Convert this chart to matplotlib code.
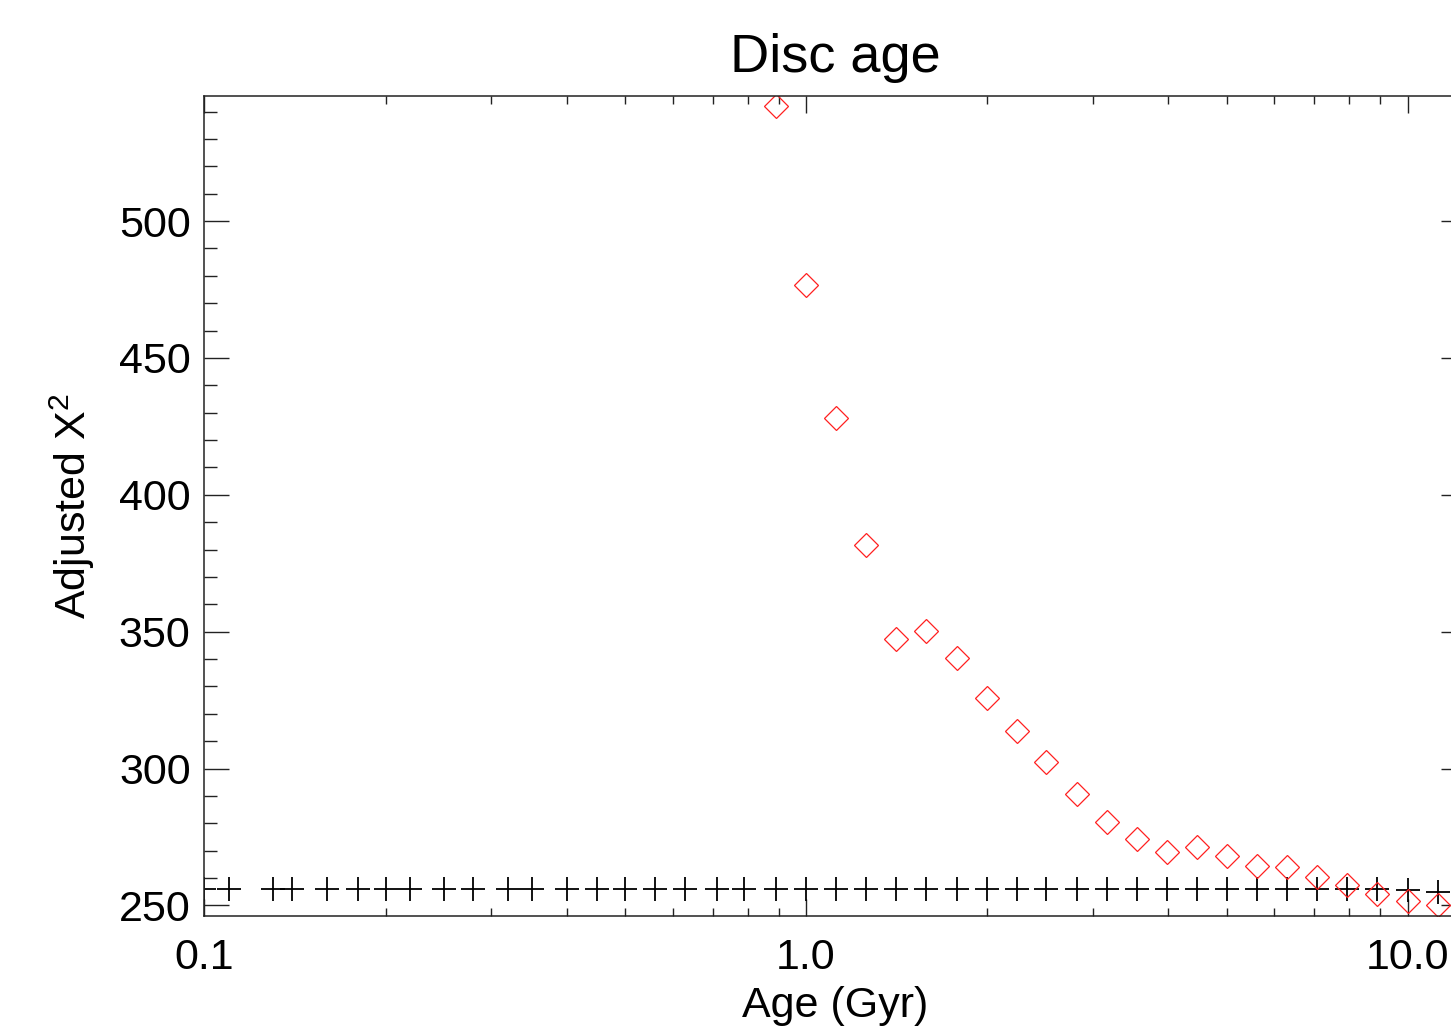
#Disc age: adjusted chi-square against age of the disc population
import matplotlib
matplotlib.use('Agg')
import matplotlib.pyplot as plt
from matplotlib.ticker import FixedLocator, LogLocator, MultipleLocator, NullFormatter

plt.rcParams['font.family'] = ['Liberation Sans', 'DejaVu Sans']
plt.rcParams['mathtext.fontset'] = 'custom'
plt.rcParams['mathtext.rm'] = 'Liberation Sans'

#Ages of the model grid (Gyr), black crosses
age_grid = [0.10, 0.11, 0.13, 0.14, 0.16, 0.18, 0.20, 0.22, 0.25, 0.28, 0.32,
            0.35, 0.40, 0.45, 0.50, 0.56, 0.63, 0.71, 0.79, 0.89, 1.00, 1.12,
            1.26, 1.41, 1.58, 1.78, 2.00, 2.24, 2.51, 2.82, 3.16, 3.55, 3.98,
            4.47, 5.01, 5.62, 6.31, 7.08, 7.94, 8.91, 10.00, 11.22]
chi2_grid = [256.0] * 40 + [255.6, 254.9]

#Ages with a visible adjusted chi-square (red diamonds)
age_fit = [0.89, 1.00, 1.12, 1.26, 1.41, 1.58, 1.78, 2.00, 2.24, 2.51, 2.82,
           3.16, 3.55, 3.98, 4.47, 5.01, 5.62, 6.31, 7.08, 7.94, 8.91, 10.00,
           11.22]
chi2_fit = [542.0, 476.6, 428.0, 381.7, 347.3, 350.3, 340.4, 325.8, 313.7,
            302.4, 290.7, 280.5, 274.3, 269.5, 271.4, 268.1, 264.4, 264.0,
            260.4, 257.5, 254.2, 251.6, 250.2]

xticks = [0.1, 1.0, 10.0]
xticklabels = ['0.1', '1.0', '10.0']

fig = plt.figure(figsize=(14.51, 10.34), dpi=100)
ax = fig.add_axes([0.1409, 0.1146, 0.8694, 0.7926])

ax.plot(age_grid, chi2_grid, '+', color='black', markersize=17, markeredgewidth=1.3)
ax.plot(age_fit, chi2_fit, 'D', color='#ff2020', markerfacecolor='none',
        markersize=12, markeredgewidth=0.9)

ax.set_xscale('log')
ax.set_xlim(0.1, 12.5)
ax.set_ylim(246.3, 545.7)

ax.xaxis.set_major_locator(FixedLocator(xticks))
ax.set_xticklabels(xticklabels)
ax.xaxis.set_minor_locator(LogLocator(base=10, subs=range(2, 10)))
ax.xaxis.set_minor_formatter(NullFormatter())
ax.yaxis.set_major_locator(MultipleLocator(50))
ax.yaxis.set_minor_locator(MultipleLocator(10))

ax.tick_params(axis='both', which='both', direction='in', top=True, right=True,
               width=1.0, labelsize=31, color='#222222')
ax.tick_params(axis='x', which='major', length=12, pad=16)
ax.tick_params(axis='x', which='minor', length=6)
ax.tick_params(axis='y', which='major', length=18, pad=10)
ax.tick_params(axis='y', which='minor', length=9)
for s in ax.spines.values():
    s.set_linewidth(1.1)
    s.set_color('#222222')

ax.set_title('Disc age', fontsize=39, pad=17)
ax.set_xlabel('Age (Gyr)', fontsize=31, labelpad=6)
ax.set_ylabel('Adjusted X$^{\\mathregular{2}}$', fontsize=31, labelpad=16)

fig.savefig('out.png', dpi=100)
